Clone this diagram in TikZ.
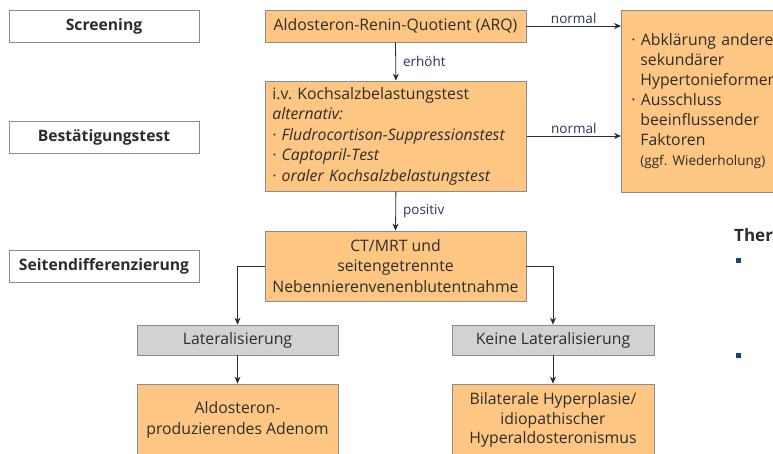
\documentclass[tikz,border=0pt]{standalone}
\usepackage{fontspec}
\setmainfont{Open Sans}
\usetikzlibrary{arrows.meta}
\definecolor{boxorange}{RGB}{253,198,130}
\definecolor{boxgray}{RGB}{209,210,212}
\definecolor{edgegray}{RGB}{140,140,140}
\definecolor{lblblue}{RGB}{40,55,90}
\definecolor{txt}{RGB}{45,45,45}
\definecolor{bulletblue}{RGB}{30,60,140}
\frenchspacing
\begin{document}
\begin{tikzpicture}[x=1pt,y=-1pt,font=\fontsize{15.8}{20.5}\selectfont,
  stage/.style={draw=edgegray, fill=white, line width=0.8pt, minimum width=190pt, minimum height=32pt, inner sep=0pt, text=txt, font=\fontsize{15.7}{18}\selectfont\bfseries},
  obox/.style={draw=edgegray, fill=boxorange, line width=0.8pt, inner sep=0pt, text=txt},
  gbox/.style={draw=edgegray, fill=boxgray, line width=0.8pt, inner sep=0pt, text=txt},
  arr/.style={-{Stealth[length=7pt,width=6pt]}, draw=txt, line width=0.8pt},
  lbl/.style={text=lblblue, font=\fontsize{13.5}{15}\selectfont, inner sep=2pt}]
\useasboundingbox (0,0) rectangle (773,453);
\clip (0,0) rectangle (773,453);
\fill[white] (0,0) rectangle (773,453);

% stage labels
\node[stage] (scr) at (104,26) {Screening};
\node[stage] (best) at (104,137) {Bestätigungstest};
\node[stage] (seit) at (104,266) {Seitendifferenzierung};

% main boxes
\node[obox, minimum width=261pt, minimum height=32pt] (arq) at (395.5,26) {Aldosteron-Renin-Quotient (ARQ)};
\node[obox, anchor=west, minimum height=110pt, text width=247pt, inner xsep=7pt, align=left] (koch) at (265,136)
  {i.v. Kochsalzbelastungstest\\
   \textit{alternativ:}\\
   \textit{· Fludrocortison-Suppressionstest}\\
   \textit{· Captopril-Test}\\
   \textit{· oraler Kochsalzbelastungstest}};
\node[obox, anchor=west, minimum height=182pt, text width=170pt, inner xsep=10pt, align=left, font=\fontsize{15.8}{20}\selectfont] (right) at (621,101)
  {· Abklärung anderer\\
   \hspace*{9pt}sekundärer\\
   \hspace*{9pt}Hypertonieformen\\
   · Ausschluss\\
   \hspace*{9pt}beeinflussender\\
   \hspace*{9pt}Faktoren\\
   \hspace*{9pt}{\fontsize{13.5}{20}\selectfont(ggf. Wiederholung)}};
\node[obox, minimum width=261pt, minimum height=70pt, align=center] (ct) at (395.5,266)
  {CT/MRT und\\seitengetrennte\\Nebennierenvenenblutentnahme};
\node[gbox, minimum width=201pt, minimum height=30pt] (lat) at (237.5,340) {Lateralisierung};
\node[gbox, minimum width=202pt, minimum height=30pt] (klat) at (553,340) {Keine Lateralisierung};
\node[obox, minimum width=201pt, minimum height=72pt, align=center] (aden) at (237.5,420)
  {Aldosteron-\\produzierendes Adenom};
\node[obox, minimum width=202pt, minimum height=72pt, align=center, font=\fontsize{15.8}{19.5}\selectfont] (bil) at (553,420)
  {Bilaterale Hyperplasie/\\idiopathischer\\Hyperaldosteronismus};

% connectors
\draw[arr] (arq.east) -- node[lbl, above] {normal} (right.west |- arq.east);
\draw[arr] (koch.east) -- node[lbl, above] {normal} (right.west |- koch.east);
\draw[arr] (arq.south) -- node[lbl, right, xshift=5pt] {erhöht} (koch.north);
\draw[arr] (koch.south) -- node[lbl, right, xshift=5pt] {positiv} (ct.north);
\draw[arr] (ct.west) -| (lat.north);
\draw[arr] (ct.east) -| (klat.north);
\draw[arr] (lat.south) -- (aden.north);
\draw[arr] (klat.south) -- (bil.north);

% partial neighbouring text
\node[anchor=west, inner sep=0pt, text=txt, font=\fontsize{17}{20}\selectfont\bfseries] (ther) at (734,235) {Ther};
\fill[bulletblue] (736,258) rectangle (741,263);
\fill[bulletblue] (736,353) rectangle (741,358);
\end{tikzpicture}
\end{document}
